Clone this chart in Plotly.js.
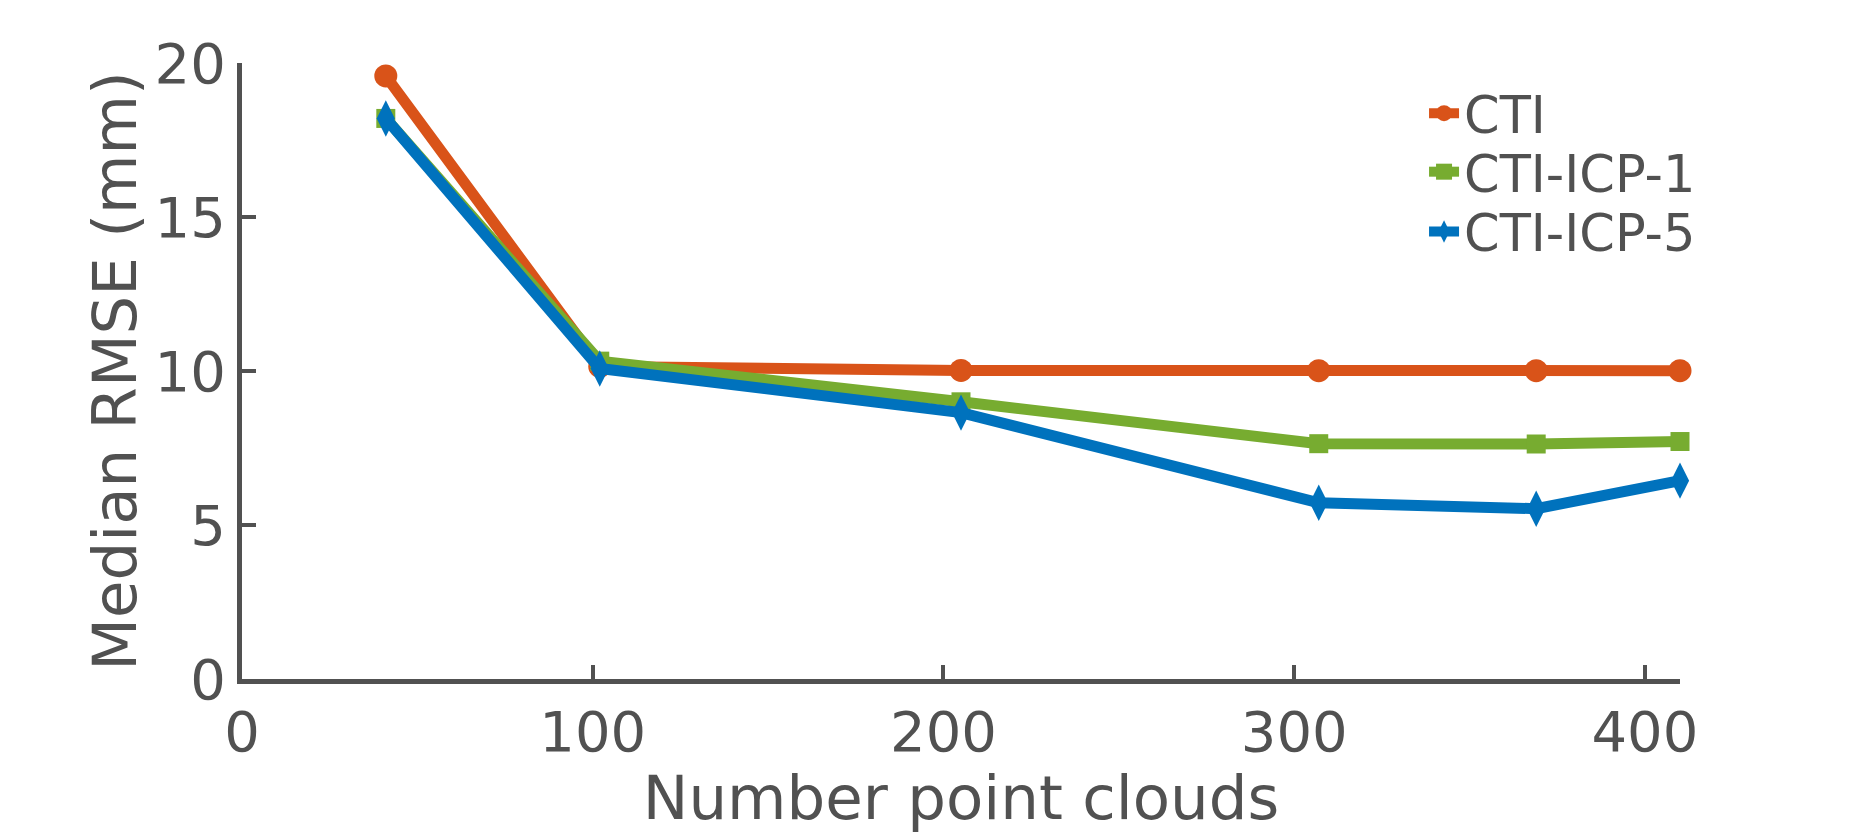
<!DOCTYPE html>
<html>
<head>
<meta charset="utf-8">
<script src="https://cdn.plot.ly/plotly-3.0.1.min.js"></script>
<style>html,body{margin:0;padding:0;background:#fff;}#chart{width:1855px;height:833px;}</style>
</head>
<body>
<div id="chart"></div>
<script>
const numClouds = [41, 102, 205, 307, 369, 410];
const rmseCTI = [19.58, 10.15, 10.02, 10.01, 10.01, 10.01];
const rmseICP1 = [18.2, 10.32, 9.0, 7.64, 7.63, 7.71];
const rmseICP5 = [18.2, 10.08, 8.65, 5.72, 5.53, 6.44];
const seriesNames = ['CTI', 'CTI-ICP-1', 'CTI-ICP-5'];
const xTicks = [0, 100, 200, 300, 400];
const yTicks = [0, 5, 10, 15, 20];

const textColor = '#515151';
const font = 'DejaVu Sans, sans-serif';
const legendFont = {size: 51, color: textColor, family: font};

const traces = [
  {x: numClouds, y: rmseCTI, name: seriesNames[0], mode: 'lines+markers', legend: 'legend', cliponaxis: false,
   line: {color: '#D95319', width: 11}, marker: {symbol: 'circle', size: 23, color: '#D95319'}},
  {x: numClouds, y: rmseICP1, name: seriesNames[1], mode: 'lines+markers', legend: 'legend2', cliponaxis: false,
   line: {color: '#77AC30', width: 11}, marker: {symbol: 'square', size: 19, color: '#77AC30'}},
  {x: numClouds, y: rmseICP5, name: seriesNames[2], mode: 'lines+markers', legend: 'legend3', cliponaxis: false,
   line: {color: '#0072BD', width: 11}, marker: {symbol: 'diamond-tall', size: 26, color: '#0072BD'}}
];

function legendAt(yp) {
  return {x: 0.822, y: yp, xanchor: 'left', yanchor: 'middle', bgcolor: 'rgba(0,0,0,0)',
          borderwidth: 0, font: legendFont, itemwidth: 30};
}

const layout = {
  width: 1855, height: 833,
  margin: {l: 242, r: 175, t: 63, b: 154},
  paper_bgcolor: '#fff', plot_bgcolor: '#fff',
  font: {family: font, color: textColor},
  showlegend: true,
  legend: legendAt(0.918),
  legend2: legendAt(0.823),
  legend3: legendAt(0.726),
  xaxis: {
    range: [0, 410], tickvals: xTicks, ticktext: xTicks.map(String),
    showgrid: false, zeroline: false, showline: true, linecolor: textColor, linewidth: 5,
    ticks: 'inside', ticklen: 14, tickwidth: 4, tickcolor: textColor,
    tickfont: {size: 56, color: textColor, family: font},
    title: {text: 'Number point clouds', font: {size: 61, color: textColor, family: font}, standoff: 20},
    fixedrange: true
  },
  yaxis: {
    range: [0, 20], tickvals: yTicks, ticktext: yTicks.map(String),
    showgrid: false, zeroline: false, showline: true, linecolor: textColor, linewidth: 5,
    ticks: 'inside', ticklen: 14, tickwidth: 4, tickcolor: textColor,
    tickfont: {size: 56, color: textColor, family: font},
    title: {text: 'Median RMSE (mm)', font: {size: 61, color: textColor, family: font}, standoff: 0},
    fixedrange: true
  }
};

Plotly.newPlot('chart', traces, layout, {displayModeBar: false, staticPlot: true});
</script>
</body>
</html>
